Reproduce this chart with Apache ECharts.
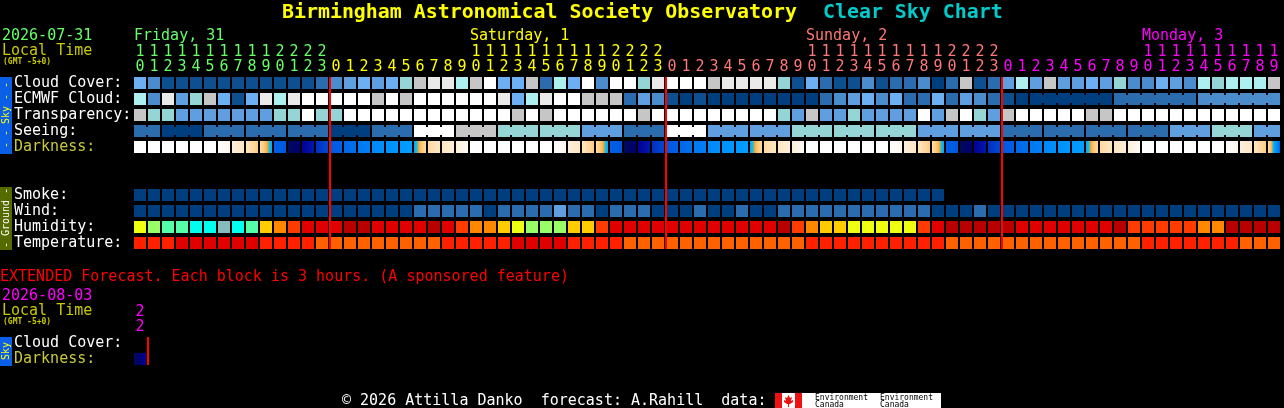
<!DOCTYPE html>
<html><head><meta charset="utf-8">
<style>html,body{margin:0;padding:0;background:#000}#c{width:1284px;height:408px}</style>
<script src="https://cdn.jsdelivr.net/npm/echarts@6/dist/echarts.min.js"></script>
</head><body><div id="c"></div>
<script>
const hours = [10,11,12,13,14,15,16,17,18,19,20,21,22,23,
  0,1,2,3,4,5,6,7,8,9,10,11,12,13,14,15,16,17,18,19,20,21,22,23,
  0,1,2,3,4,5,6,7,8,9,10,11,12,13,14,15,16,17,18,19,20,21,22,23,
  0,1,2,3,4,5,6,7,8,9,10,11,12,13,14,15,16,17,18,19];
const midnights = [14,38,62];
const rowLabels = ['Cloud Cover:','ECMWF Cloud:','Transparency:','Seeing:','Darkness:','','','Smoke:','Wind:','Humidity:','Temperature:'];
const extRowLabels = ['Cloud Cover:','Darkness:'];
const extHours = [22];

const cloudCover = [5,3,1,1,1,1,1,1,1,1,1,1,1,2,3,4,5,4,5,6,8,9,9,7,8,10,5,5,8,2,7,5,10,3,10,10,6,9,10,10,10,8,9,9,9,9,6,1,5,2,1,1,3,1,2,2,3,0,2,8,1,2,4,7,4,8,4,4,5,4,6,3,3,5,4,3,7,6,7,7,7,8];
const ecmwfCloud = [7,3,9,4,6,8,5,1,5,9,7,9,10,10,10,10,10,8,10,8,10,10,10,10,10,10,9,5,7,9,10,10,8,8,8,2,4,3,1,0,1,0,0,0,0,0,0,0,0,2,3,4,5,3,5,2,2,5,2,4,3,2,1,0,0,0,0,0,0,0,2,2,2,2,2,2,3,3,3,3,3,3];
const transparency = [8,6,6,4,4,4,4,4,4,4,6,6,10,6,6,10,10,10,10,10,10,10,10,10,10,10,10,8,10,8,10,10,10,10,10,10,8,10,10,10,10,10,10,10,10,10,6,4,8,4,4,6,4,4,4,4,10,4,8,10,6,4,8,10,10,10,10,10,8,8,10,10,10,10,10,10,10,10,10,10,10,10];
const seeing = [2,2,0,0,0,2,2,2,2,2,2,2,2,2,0,0,0,2,2,2,10,10,10,8,8,8,6,6,6,6,6,6,4,4,4,2,2,2,10,10,10,4,4,4,4,4,4,6,6,6,6,6,6,6,6,6,4,4,4,4,4,4,2,2,2,2,2,2,2,2,2,2,2,2,4,4,4,6,6,6,4,4];
const darkStart = [0,0,0,0,0,0,0,2,3,3.8,12.5,19,17,15,13,12,11,10,9.5,9,8,4,3,2,0,0,0,0,0,0,0,2,3,3.8,12.5,19,17,15,13,12,11,10,9.5,9,8,4,3,2,0,0,0,0,0,0,0,2,3,3.8,12.5,19,17,15,13,12,11,10,9.5,9,8,4,3,2,0,0,0,0,0,0,0,2,3,3.8];
const darkEnd = [0,0,0,0,0,0,1,3,5,8,13,18,16,14,12.5,11.5,10.5,9.5,9,8.5,4,3,2,0.5,0,0,0,0,0,0,1,3,5,8,13,18,16,14,12.5,11.5,10.5,9.5,9,8.5,4,3,2,0.5,0,0,0,0,0,0,1,3,5,8,13,18,16,14,12.5,11.5,10.5,9.5,9,8.5,4,3,2,0.5,0,0,0,0,0,0,1,3,5,12];
const smoke = [0,0,0,0,0,0,0,0,0,0,0,0,0,0,0,0,0,0,0,0,0,0,0,0,0,0,0,0,0,0,0,0,0,0,0,0,0,0,0,0,0,0,0,0,0,0,0,0,0,0,0,0,0,0,0,0,0,0];
const wind = [0,0,0,0,0,0,0,0,0,0,0,0,0,0,0,0,0,0,0,0,2,2,2,2,2,0,2,2,2,2,4,2,2,0,2,2,2,0,0,0,2,0,0,2,0,0,2,2,2,2,2,2,2,2,2,2,2,0,0,0,2,0,0,0,0,0,0,0,0,0,0,0,0,0,0,0,0,0,0,0,0,0];
const humidity = [70,65,60,60,55,55,50,55,60,75,80,85,90,90,90,95,95,90,90,90,90,95,90,85,80,80,75,70,65,65,65,75,75,85,90,90,90,90,90,90,90,90,90,90,90,90,95,85,80,75,75,70,70,70,70,70,85,90,95,95,95,95,95,90,90,90,90,90,90,90,95,85,85,85,85,85,80,80,95,95,95,95];
const temperature = [28,28,28,30,30,30,30,30,30,28,28,28,28,26,26,26,26,26,26,26,26,26,28,28,28,28,28,30,30,30,30,28,28,28,28,26,26,26,26,26,26,26,26,26,26,26,26,26,28,28,28,28,28,28,28,28,28,28,26,26,26,26,26,26,26,26,26,26,26,26,26,26,28,28,28,28,28,28,28,26,26,26];
const extDarkStart = [19];
const extDarkEnd = [17];

const levelColors = ['#003F7F','#0D4F8F','#2B6CAE','#4A8CCC','#5F9FE0','#6DAFF3','#95D5D5','#AEF0F0','#C6C6C6','#EAEAEA','#FFFFFF'];
const humidityColors = {50:'#88BBBB',55:'#00FFEE',60:'#55FFAA',65:'#99FF66',70:'#EEFF11',75:'#FFCC00',80:'#FF8800',85:'#FF3B00',90:'#E00000',95:'#B80000'};
const temperatureColors = {26:'#FF6000',28:'#FF2000',30:'#E00000'};
const darkRamp = [[0,'#ffffff'],[1,'#fff6ec'],[2,'#ffeeda'],[3,'#ffe6c4'],[4,'#ffd9a4'],[5,'#ffcc80'],[6,'#f8b860'],[6.6,'#f0a030'],[6.8,'#33cc99'],[7,'#22bbdd'],[8,'#00a8ff'],[9,'#0098ff'],[10,'#0088f8'],[11,'#0078f0'],[12,'#0068e8'],[13,'#0058e0'],[14,'#0048d0'],[15,'#0030c0'],[16,'#0018a8'],[17,'#000098'],[18,'#000070'],[19,'#000a58']];

function hex(c){return [1,3,5].map(k=>parseInt(c.substr(k,2),16));}
function rampColor(v){
  for(let k=0;k<darkRamp.length-1;k++){
    const [a,ca]=darkRamp[k],[b,cb]=darkRamp[k+1];
    if(v<=b){const t=Math.max(0,(v-a)/(b-a)),x=hex(ca),y=hex(cb);
      return 'rgb('+x.map((q,n)=>Math.round(q+(y[n]-q)*t)).join(',')+')';}
  }
  return darkRamp[darkRamp.length-1][1];
}
function gradient(l,r){
  const stops=[];
  for(let k=0;k<=12;k++)stops.push({offset:k/12,color:rampColor(l+(r-l)*k/12)});
  return new echarts.graphic.LinearGradient(0,0,1,0,stops);
}
const FONT='"DejaVu Sans Mono", monospace';
const BLOCK_INSET=1, ROW_INSET=2;
function block(api,fill,bridge){
  const c=api.coord([api.value(0),api.value(1)]);
  const s=api.size([1,1]);
  const x=c[0]-s[0]/2+BLOCK_INSET,y=c[1]-s[1]/2+ROW_INSET,w=s[0]-2*BLOCK_INSET,h=s[1]-2*ROW_INSET;
  const kids=[{type:'rect',shape:{x,y,width:w,height:h},style:{fill}}];
  if(bridge)kids.push({type:'rect',shape:{x:x+w,y:y+2,width:2*BLOCK_INSET,height:h-4},style:{fill}});
  return {type:'group',children:kids};
}
function cellSeries(name,values,row,colorOf,hasBridge){
  return {name,type:'custom',xAxisIndex:0,yAxisIndex:0,silent:true,clip:false,
    data:values.map((v,i)=>[i,row,v]),
    encode:{x:0,y:1},
    renderItem:(p,api)=>{
      const i=api.value(0);
      const br=hasBridge&&hasBridge(i)&&values[i]===values[i+1];
      return block(api,colorOf(api.value(2)),br);
    }};
}
function darkSeries(name,starts,ends,row,axis){
  return {name,type:'custom',xAxisIndex:axis,yAxisIndex:axis,silent:true,clip:false,
    data:starts.map((v,i)=>[i,row,v,ends[i]]),
    encode:{x:0,y:1},
    renderItem:(p,api)=>block(api,gradient(api.value(2),api.value(3)))};
}
const lv=v=>levelColors[v];
const series=[
  cellSeries('Cloud Cover',cloudCover,0,lv),
  cellSeries('ECMWF Cloud',ecmwfCloud,1,lv,i=>i>=64&&(i-63)%6!==0),
  cellSeries('Transparency',transparency,2,lv),
  cellSeries('Seeing',seeing,3,lv,i=>(i+2)%3!==0),
  darkSeries('Darkness',darkStart,darkEnd,4,0),
  cellSeries('Smoke',smoke,7,lv),
  cellSeries('Wind',wind,8,lv),
  cellSeries('Humidity',humidity,9,v=>humidityColors[v]),
  cellSeries('Temperature',temperature,10,v=>temperatureColors[v]),
  {name:'Midnight',type:'custom',xAxisIndex:0,yAxisIndex:0,silent:true,clip:false,z:5,
    data:midnights.map(i=>[i,0,10]),encode:{x:0,y:1},
    renderItem:(p,api)=>{
      const a=api.coord([api.value(0),api.value(1)]),b=api.coord([api.value(0),api.value(2)]),s=api.size([1,1]);
      return {type:'rect',shape:{x:a[0]-s[0]/2,y:a[1]-s[1]/2+ROW_INSET,width:2,height:b[1]-a[1]+s[1]-2*ROW_INSET},style:{fill:'#ff0000'}};
    }},
  darkSeries('Extended darkness',extDarkStart,extDarkEnd,1,1),
  {name:'Extended midnight',type:'custom',xAxisIndex:1,yAxisIndex:1,silent:true,clip:false,z:5,
    data:[[0,0,1]],encode:{x:0,y:1},
    renderItem:(p,api)=>{
      const a=api.coord([api.value(0),api.value(1)]),b=api.coord([api.value(0),api.value(2)]),s=api.size([1,1]);
      return {type:'rect',shape:{x:a[0]+s[0]/2,y:a[1]-s[1]/2+ROW_INSET,width:2,height:b[1]-a[1]+s[1]-2*ROW_INSET},style:{fill:'#ff0000'}};
    }}
];
const dayKey=i=>i<14?'fri':i<38?'sat':i<62?'sun':'mon';
const hourRich={};
[['fri','#66ff66'],['sat','#ffff00'],['sun','#ff7777'],['mon','#ff00ff']].forEach(([k,col])=>{
  hourRich[k]={color:col,fontFamily:FONT,fontSize:15,lineHeight:15,align:'center'};
});
const hourLabel=(v,i)=>{
  const h=hours[i],k=dayKey(i);
  return (h>=10?'{'+k+'|'+Math.floor(h/10)+'}':'{'+k+'| }')+'\n{'+k+'|'+(h%10)+'}';
};
const labelColor=v=>v==='Darkness:'?'#c8c83c':'#ffffff';
const noAxis={axisLine:{show:false},axisTick:{show:false},splitLine:{show:false}};
function T(text,x,y,fill,font,extra){
  return Object.assign({type:'text',silent:true,z:10,x,y:y+1,style:{text,fill,font,verticalAlign:'middle',align:'left'}},extra||{});
}
const f15='15px '+FONT;
function vertText(text,cx,cy,fill){
  return {type:'text',silent:true,z:11,x:cx,y:cy,rotation:Math.PI/2,style:{text,fill,font:'10px '+FONT,align:'center',verticalAlign:'middle'}};
}
const rect=(x,y,width,height,fill)=>({type:'rect',silent:true,z:9,shape:{x,y,width,height},style:{fill}});
const graphic=[
  T('Birmingham Astronomical Society Observatory',282,12,'#ffff00','bold 19.9px '+FONT),
  T('Clear Sky Chart',823,12,'#00cccc','bold 19.9px '+FONT),
  T('2026-07-31',2,35,'#66ff66',f15),
  T('Local Time',2,50,'#c8c800',f15),
  T('(GMT -5+0)',3,61,'#c8c800','bold 8px '+FONT),
  T('Friday, 31',134,35,'#66ff66',f15),
  T('Saturday, 1',470,35,'#ffff00',f15),
  T('Sunday, 2',806,35,'#ff7777',f15),
  T('Monday, 3',1142,35,'#ff00ff',f15),
  rect(0,77,12,77,'#0a5fe6'),
  vertText('- - Sky - -',6,115,'#ffff00'),
  rect(0,187,12,63,'#556b00'),
  vertText('- Ground -',6,218,'#ffffff'),
  T('EXTENDED Forecast. Each block is 3 hours. (A sponsored feature)',0,276,'#ff0000',f15),
  T('2026-08-03',2,295,'#ff00ff',f15),
  T('Local Time',2,310,'#c8c800',f15),
  T('(GMT -5+0)',3,321,'#c8c800','bold 8px '+FONT),
  rect(0,337,12,29,'#0a5fe6'),
  vertText('Sky',6,351,'#ffff00'),
  T('\u00a9 2026 Attilla Danko  forecast: A.Rahill  data:',342,400,'#ffffff',f15),
  rect(775,393,166,15,'#ffffff'),
  rect(775,393,7,15,'#ee1111'),
  rect(795,393,7,15,'#ee1111'),
  {type:'polygon',silent:true,z:10,shape:{points:[[788.5,395],[790,398],[792,397],[791,401],[793,400],[793,402],[790,404],[789,404],[789,407],[788,407],[788,404],[787,404],[784,402],[784,400],[786,401],[785,397],[787,398]]},style:{fill:'#ee1111'}},
  T('Environment',815,397,'#000000','8px '+FONT),
  T('Canada',815,404,'#000000','8px '+FONT),
  T('Environment',880,397,'#000000','8px '+FONT),
  T('Canada',880,404,'#000000','8px '+FONT)
];
const option={
  animation:false,backgroundColor:'#000',
  textStyle:{fontFamily:FONT},
  grid:[{left:133,top:75,width:1148,height:176},{left:133,top:335,width:14,height:32}],
  xAxis:[
    Object.assign({type:'category',gridIndex:0,position:'top',data:hours.map(String),boundaryGap:true,
      axisLabel:{interval:0,margin:0,formatter:hourLabel,rich:hourRich}},noAxis),
    Object.assign({type:'category',gridIndex:1,position:'top',data:extHours.map(String),boundaryGap:true,
      axisLabel:{interval:0,margin:0,formatter:v=>'{mon|'+v[0]+'}\n{mon|'+v[1]+'}',rich:hourRich}},noAxis)
  ],
  yAxis:[
    Object.assign({type:'category',gridIndex:0,inverse:true,data:rowLabels,
      axisLabel:{interval:0,margin:119,align:'left',color:labelColor,fontFamily:FONT,fontSize:15,padding:[0,0,6,0]}},noAxis),
    Object.assign({type:'category',gridIndex:1,inverse:true,data:extRowLabels,
      axisLabel:{interval:0,margin:119,align:'left',color:labelColor,fontFamily:FONT,fontSize:15,padding:[0,0,6,0]}},noAxis)
  ],
  graphic:{elements:graphic},
  series
};
echarts.init(document.getElementById('c'),null,{renderer:'canvas'}).setOption(option);
</script></body></html>
